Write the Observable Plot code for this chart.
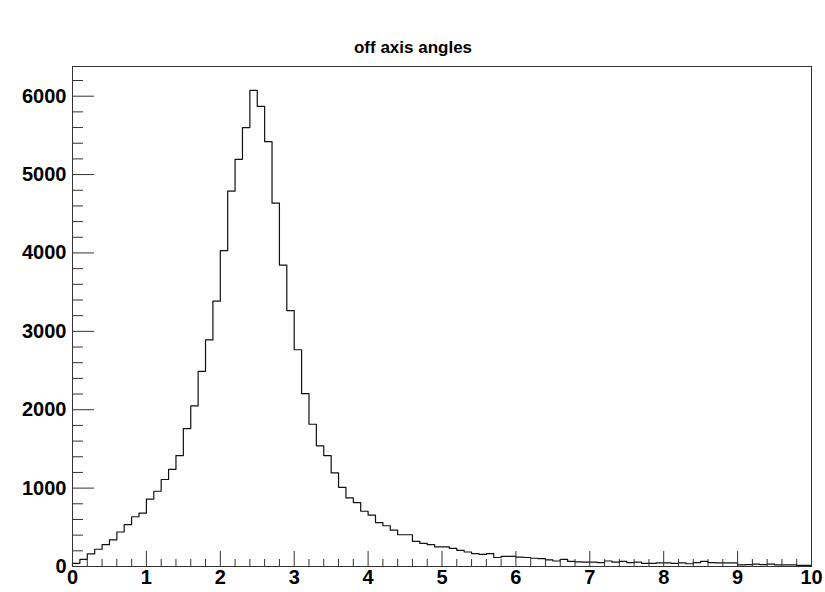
<!DOCTYPE html>
<html>
<head>
<meta charset="utf-8">
<script src="https://cdn.jsdelivr.net/npm/d3@7"></script>
<script src="https://cdn.jsdelivr.net/npm/@observablehq/plot@0.6"></script>
<style>
  html, body { margin: 0; padding: 0; background: #fff; }
  svg { display: block; }
</style>
</head>
<body>
<div id="chart"></div>
<script>
const title = "off axis angles";
const xMin = 0, xMax = 10;
const counts = [
  40, 90, 160, 220, 280, 340, 440, 535, 635, 680,
  860, 960, 1110, 1240, 1415, 1760, 2050, 2490, 2890, 3385,
  4030, 4790, 5195, 5600, 6075, 5870, 5420, 4635, 3845, 3265,
  2765, 2205, 1815, 1540, 1415, 1195, 1010, 875, 815, 705,
  655, 560, 520, 465, 405, 405, 320, 295, 280, 250,
  250, 230, 205, 185, 165, 155, 165, 115, 130, 130,
  120, 115, 105, 100, 85, 70, 90, 65, 60, 55,
  55, 50, 70, 55, 65, 50, 55, 40, 40, 45,
  45, 40, 45, 35, 50, 65, 50, 45, 45, 45,
  20, 25, 30, 25, 30, 20, 20, 20, 15, 15
];
const xMajorTicks = d3.range(0, 11, 1);
const xMinorTicks = d3.range(0, 10.01, 0.2).filter(v => Math.abs(v - Math.round(v)) > 1e-6);
const yMajorTicks = d3.range(0, 6001, 1000);
const yMinorTicks = d3.range(0, 6201, 200).filter(v => v % 1000 !== 0);

const nb = counts.length;
const bw = (xMax - xMin) / nb;
const steps = [{x: xMin, y: 0}];
counts.forEach((c, i) => {
  steps.push({x: xMin + i * bw, y: c});
  steps.push({x: xMin + (i + 1) * bw, y: c});
});
steps.push({x: xMax, y: 0});

const yMax = 1.05 * d3.max(counts);
const font = "Liberation Sans, Arial, Helvetica, sans-serif";

const chart = Plot.plot({
  width: 825,
  height: 592,
  marginLeft: 72,
  marginRight: 14,
  marginTop: 66,
  marginBottom: 26,
  style: {fontFamily: font, fontSize: "20px", fontWeight: "bold", background: "#fff", color: "#000"},
  x: {domain: [xMin, xMax]},
  y: {domain: [0, yMax]},
  marks: [
    Plot.frame({stroke: "#333", strokeWidth: 1}),
    Plot.line(steps, {x: "x", y: "y", stroke: "#111", strokeWidth: 1.2}),
    Plot.axisX({ticks: xMajorTicks, tickSize: -15, tickFormat: () => "", stroke: "#333", label: null}),
    Plot.axisX({ticks: xMinorTicks, tickSize: -7, tickFormat: () => "", stroke: "#333", label: null}),
    Plot.axisX({ticks: xMajorTicks, tickSize: 0, tickPadding: 3, tickFormat: d => String(d), fill: "#000", fontSize: 20, label: null}),
    Plot.axisY({ticks: yMajorTicks, tickSize: -22, tickFormat: () => "", stroke: "#333", label: null}),
    Plot.axisY({ticks: yMinorTicks, tickSize: -11, tickFormat: () => "", stroke: "#333", label: null}),
    Plot.axisY({ticks: yMajorTicks, tickSize: 0, tickPadding: 6, tickFormat: d => String(d), fill: "#000", fontSize: 20, label: null}),
    Plot.text([title], {frameAnchor: "top", dy: -19, dx: -29, text: d => d, fontSize: 17, fontWeight: "bold", fill: "#000", lineAnchor: "middle"})
  ]
});
document.getElementById("chart").appendChild(chart);
</script>
</body>
</html>
